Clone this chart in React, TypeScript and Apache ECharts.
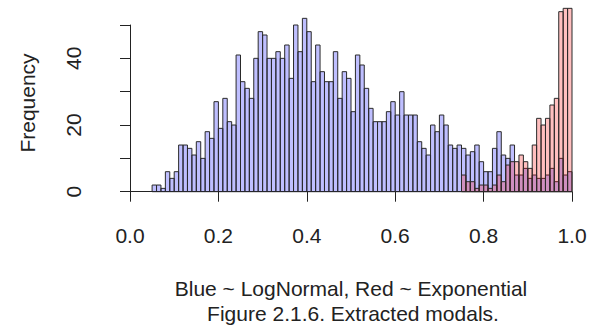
import React, { useEffect, useRef } from "react";
import * as echarts from "echarts";

// Histogram bin width and starts
const BIN_WIDTH = 0.01;
const BLUE_START = 0.05;
const RED_START = 0.75;

// Blue ~ LogNormal counts, bins 0.05 .. 0.99
const blueCounts = [
  2, 2, 1, 6, 4, 6, 14, 14, 13, 11,
  15, 10, 18, 16, 27, 19, 28, 21, 20, 41,
  33, 31, 28, 40, 48, 47, 40, 40, 42, 40,
  44, 34, 50, 42, 52, 48, 33, 44, 36, 33,
  33, 42, 28, 36, 34, 24, 41, 38, 31, 25,
  21, 21, 21, 24, 27, 23, 30, 23, 23, 23,
  15, 13, 11, 20, 18, 23, 20, 14, 13, 14,
  13, 11, 12, 14, 9, 6, 6, 13, 18, 11,
  10, 14, 5, 5, 7, 4, 5, 4, 4, 5,
  7, 3, 10, 5, 6,
];

// Red ~ Exponential counts, bins 0.75 .. 0.99
const redCounts = [
  5, 3, 3, 1, 2, 2, 1, 2, 5, 3,
  8, 9, 9, 11, 9, 7, 14, 22, 20, 22,
  26, 28, 54, 55, 55,
];

const xTicks = [0, 0.2, 0.4, 0.6, 0.8, 1.0];
const yLabelled = [0, 20, 40];

const xLabel = "Blue ~ LogNormal, Red ~ Exponential";
const caption = "Figure 2.1.6. Extracted modals.";
const yName = "Frequency";

const FONT = "'Liberation Sans', Arial, sans-serif";
const TEXT_COLOR = "#222";
const FS = 21;

function toData(start: number, counts: number[]) {
  return counts.map((c, i) => [+(start + i * BIN_WIDTH).toFixed(2), c]);
}

function makeRender(fill: string) {
  return (params: any, api: any) => {
    const x0 = api.value(0);
    const y = api.value(1);
    const p0 = api.coord([x0, y]);
    const p1 = api.coord([x0 + BIN_WIDTH, 0]);
    return {
      type: "rect",
      shape: { x: p0[0], y: p0[1], width: p1[0] - p0[0], height: p1[1] - p0[1] },
      style: { fill, stroke: "#2a2a2a", lineWidth: 1 },
    };
  };
}

export default function App() {
  const ref = useRef<HTMLDivElement>(null);
  useEffect(() => {
    if (!ref.current) return;
    const chart = echarts.init(ref.current, undefined, { renderer: "svg" });
    chart.setOption({
      animation: false,
      backgroundColor: "#ffffff",
      grid: { left: 130, right: 20, top: 25, bottom: 134.3, containLabel: false },
      xAxis: {
        type: "value",
        min: 0,
        max: 1,
        interval: 0.2,
        offset: 9.3,
        axisLine: { show: true, lineStyle: { color: "#222", width: 1 } },
        axisTick: { show: true, length: 10, lineStyle: { color: "#222" } },
        splitLine: { show: false },
        axisLabel: {
          margin: 24,
          fontSize: FS,
          fontFamily: FONT,
          color: TEXT_COLOR,
          formatter: (v: number) =>
            xTicks.some((t) => Math.abs(t - v) < 1e-9) ? v.toFixed(1) : "",
        },
      },
      yAxis: {
        type: "value",
        min: 0,
        max: 50,
        interval: 10,
        offset: 20,
        axisLine: { show: true, lineStyle: { color: "#222", width: 1 } },
        axisTick: { show: true, length: 10, lineStyle: { color: "#222" } },
        splitLine: { show: false },
        axisLabel: {
          rotate: 90,
          margin: 26,
          fontSize: FS,
          fontFamily: FONT,
          color: TEXT_COLOR,
          formatter: (v: number) => (yLabelled.indexOf(v) >= 0 ? String(v) : ""),
        },
      },
      series: [
        {
          type: "custom",
          renderItem: makeRender("rgba(0,0,255,0.25)"),
          data: toData(BLUE_START, blueCounts),
          clip: false,
          z: 2,
        },
        {
          type: "custom",
          renderItem: makeRender("rgba(255,0,0,0.25)"),
          data: toData(RED_START, redCounts),
          clip: false,
          z: 3,
        },
      ],
      graphic: [
        {
          type: "text",
          x: 27,
          y: 103,
          rotation: Math.PI / 2,
          style: {
            text: yName,
            fontSize: FS,
            fontFamily: FONT,
            fill: TEXT_COLOR,
            textAlign: "center",
            textVerticalAlign: "middle",
          },
        },
        {
          type: "text",
          x: 351,
          y: 288,
          style: {
            text: xLabel,
            fontSize: FS,
            fontFamily: FONT,
            fill: TEXT_COLOR,
            textAlign: "center",
            textVerticalAlign: "middle",
          },
        },
        {
          type: "text",
          x: 353,
          y: 313,
          style: {
            text: caption,
            fontSize: FS,
            fontFamily: FONT,
            fill: TEXT_COLOR,
            textAlign: "center",
            textVerticalAlign: "middle",
          },
        },
      ],
    });
    return () => chart.dispose();
  }, []);
  return (
    <div
      ref={ref}
      style={{ width: 592, height: 326, position: "absolute", left: 0, top: 0 }}
    />
  );
}
